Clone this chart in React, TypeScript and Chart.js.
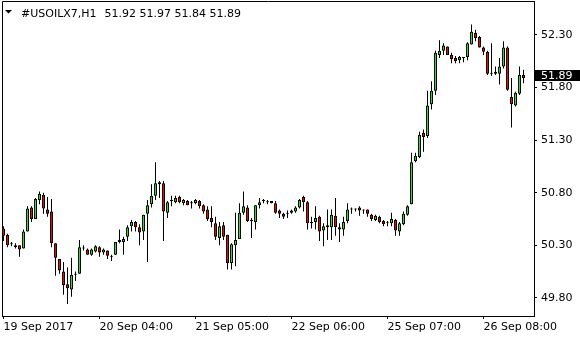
import React, { useEffect, useRef } from "react";
import { Chart, registerables } from "chart.js";

Chart.register(...registerables);

const symbol = "#USOILX7,H1";

const opens = [
  50.46, 50.40, 50.31, 50.30, 50.30, 50.27, 50.43, 50.66, 50.55, 50.73,
  50.78, 50.64, 50.62, 50.32, 50.17, 50.05, 49.93, 49.88, 50.02, 50.03,
  50.27, 50.26, 50.21, 50.24, 50.28, 50.23, 50.25, 50.19, 50.21, 50.35,
  50.33, 50.38, 50.48, 50.52, 50.47, 50.43, 50.60, 50.69, 50.77, 50.90,
  50.89, 50.61, 50.72, 50.71, 50.76, 50.70, 50.72, 50.70, 50.70, 50.72,
  50.68, 50.64, 50.56, 50.51, 50.37, 50.49, 50.40, 50.13, 50.30, 50.36,
  50.61, 50.66, 50.54, 50.52, 50.68, 50.72, 50.71, 50.72, 50.70, 50.63,
  50.60, 50.60, 50.63, 50.62, 50.66, 50.76, 50.71, 50.52, 50.52, 50.57,
  50.44, 50.47, 50.47, 50.58, 50.47, 50.45, 50.53, 50.64, 50.64, 50.66,
  50.63, 50.64, 50.59, 50.54, 50.57, 50.53, 50.51, 50.51, 50.54, 50.43,
  50.50, 50.59, 50.69, 51.10, 51.14, 51.37, 51.34, 51.64, 51.77, 52.11,
  52.15, 52.19, 52.11, 52.08, 52.06, 52.08, 52.09, 52.21, 52.32, 52.28,
  52.18, 52.14, 51.93, 51.93, 51.93, 52.00, 52.18, 51.71, 51.63, 51.74,
  51.92,
];

const highs = [
  50.48, 50.41, 50.33, 50.32, 50.30, 50.45, 50.67, 50.67, 50.75, 50.81,
  50.80, 50.76, 50.74, 50.32, 50.17, 50.14, 50.09, 50.18, 50.05, 50.35,
  50.30, 50.27, 50.27, 50.30, 50.29, 50.27, 50.25, 50.21, 50.33, 50.45,
  50.38, 50.49, 50.54, 50.53, 50.50, 50.59, 50.73, 50.88, 51.09, 50.91,
  50.91, 50.72, 50.77, 50.77, 50.77, 50.74, 50.73, 50.72, 50.74, 50.73,
  50.69, 50.67, 50.67, 50.57, 50.52, 50.52, 50.40, 50.32, 50.61, 50.70,
  50.81, 50.68, 50.56, 50.68, 50.75, 50.74, 50.73, 50.72, 50.72, 50.64,
  50.61, 50.63, 50.64, 50.67, 50.74, 50.77, 50.72, 50.57, 50.67, 50.58,
  50.51, 50.64, 50.64, 50.75, 50.51, 50.57, 50.70, 50.66, 50.65, 50.67,
  50.64, 50.64, 50.60, 50.59, 50.58, 50.54, 50.53, 50.61, 50.55, 50.52,
  50.62, 50.68, 51.18, 51.18, 51.38, 51.40, 51.77, 51.86, 52.15, 52.25,
  52.22, 52.19, 52.13, 52.10, 52.10, 52.09, 52.23, 52.40, 52.35, 52.29,
  52.19, 52.15, 52.22, 52.00, 52.08, 52.24, 52.19, 51.89, 51.76, 52.00,
  51.97,
];

const lows = [
  50.34, 50.28, 50.29, 50.27, 50.19, 50.27, 50.43, 50.52, 50.55, 50.69,
  50.60, 50.57, 50.28, 50.01, 50.03, 49.83, 49.74, 49.81, 49.96, 50.03,
  50.25, 50.21, 50.20, 50.23, 50.19, 50.21, 50.17, 50.15, 50.21, 50.32,
  50.21, 50.34, 50.43, 50.43, 50.30, 50.35, 50.14, 50.66, 50.73, 50.75,
  50.34, 50.56, 50.67, 50.70, 50.70, 50.68, 50.68, 50.65, 50.69, 50.65,
  50.60, 50.53, 50.47, 50.35, 50.30, 50.35, 50.07, 50.07, 50.10, 50.36,
  50.59, 50.52, 50.37, 50.45, 50.65, 50.70, 50.69, 50.70, 50.60, 50.56,
  50.55, 50.56, 50.60, 50.61, 50.65, 50.62, 50.45, 50.46, 50.45, 50.34,
  50.29, 50.35, 50.35, 50.39, 50.33, 50.39, 50.51, 50.60, 50.62, 50.58,
  50.60, 50.57, 50.53, 50.53, 50.51, 50.48, 50.48, 50.48, 50.39, 50.39,
  50.49, 50.58, 50.69, 51.09, 51.13, 51.19, 51.32, 51.59, 51.73, 52.08,
  52.11, 52.11, 52.03, 52.03, 52.03, 52.04, 52.06, 52.21, 52.24, 52.18,
  52.11, 51.92, 51.91, 51.92, 51.83, 51.98, 51.77, 51.42, 51.62, 51.73,
  51.84,
];

const closes = [
  50.39, 50.30, 50.31, 50.28, 50.26, 50.43, 50.65, 50.55, 50.74, 50.79,
  50.65, 50.60, 50.32, 50.18, 50.06, 49.92, 49.89, 50.02, 50.03, 50.28,
  50.27, 50.21, 50.26, 50.29, 50.23, 50.26, 50.20, 50.19, 50.33, 50.33,
  50.36, 50.47, 50.52, 50.47, 50.42, 50.59, 50.68, 50.77, 50.89, 50.88,
  50.62, 50.71, 50.72, 50.75, 50.71, 50.73, 50.68, 50.70, 50.73, 50.67,
  50.62, 50.55, 50.52, 50.38, 50.48, 50.38, 50.13, 50.31, 50.35, 50.61,
  50.67, 50.53, 50.53, 50.68, 50.71, 50.72, 50.71, 50.70, 50.61, 50.60,
  50.57, 50.60, 50.61, 50.66, 50.73, 50.71, 50.51, 50.51, 50.56, 50.43,
  50.48, 50.49, 50.59, 50.47, 50.45, 50.52, 50.64, 50.65, 50.64, 50.63,
  50.63, 50.60, 50.55, 50.58, 50.52, 50.50, 50.51, 50.55, 50.44, 50.51,
  50.60, 50.67, 51.09, 51.15, 51.35, 51.33, 51.63, 51.77, 52.13, 52.15,
  52.20, 52.11, 52.07, 52.05, 52.09, 52.08, 52.22, 52.33, 52.27, 52.18,
  52.14, 51.93, 51.93, 51.95, 52.00, 52.18, 51.78, 51.64, 51.75, 51.92,
  51.89,
];

const timeLabels = ["19 Sep 2017", "20 Sep 04:00", "21 Sep 05:00", "22 Sep 06:00", "25 Sep 07:00", "26 Sep 08:00"];
const labelBars = [0, 24, 48, 72, 96, 120];
const priceTicks = [49.8, 50.3, 50.8, 51.3, 51.8, 52.3];

const BULL = "#00ff00";
const BEAR = "#ff0000";
const FONT = "'DejaVu Sans', sans-serif";

export default function App() {
  const ref = useRef<HTMLCanvasElement>(null);

  useEffect(() => {
    const canvas = ref.current;
    if (!canvas) return;
    const n = closes.length;
    const idx = closes.map((_, i) => i);
    const wickData = idx.map((i) => ({ x: i, y: [lows[i], highs[i]] }));
    const bodyData = idx.map((i) => ({ x: i, y: [opens[i], closes[i]] }));
    const bodyColors = idx.map((i) =>
      closes[i] > opens[i] ? BULL : closes[i] < opens[i] ? BEAR : "#000000"
    );

    const overlay = {
      id: "mt4overlay",
      afterDraw(chart: any) {
        const { ctx, chartArea: a, scales } = chart;
        ctx.save();
        ctx.strokeStyle = "#000";
        ctx.lineWidth = 1;
        ctx.beginPath();
        ctx.moveTo(a.left + 0.5, a.bottom);
        ctx.lineTo(a.left + 0.5, a.top + 0.5);
        ctx.lineTo(a.right, a.top + 0.5);
        ctx.stroke();

        ctx.fillStyle = "#000";
        ctx.beginPath();
        ctx.moveTo(5, 10);
        ctx.lineTo(12, 10);
        ctx.lineTo(8.5, 13.5);
        ctx.closePath();
        ctx.fill();

        ctx.font = `11px ${FONT}`;
        ctx.textAlign = "left";
        ctx.textBaseline = "alphabetic";
        ctx.fillText(symbol, 21, 17);
        const w = ctx.measureText(symbol).width;
        const last = n - 1;
        const ohlc = [opens[last], highs[last], lows[last], closes[last]]
          .map((v) => v.toFixed(2))
          .join(" ");
        ctx.fillText(ohlc, 21 + w + 8, 17);

        const py = scales.y.getPixelForValue(closes[last]);
        const top = Math.round(py) - 8;
        ctx.fillRect(a.right + 1, top, chart.width - a.right - 1, 11);
        ctx.fillStyle = "#fff";
        ctx.textBaseline = "middle";
        ctx.fillText(closes[last].toFixed(2), a.right + 7, top + 6);
        ctx.restore();
      },
    };

    const chart = new Chart(canvas, {
      type: "bar",
      data: {
        datasets: [
          {
            label: "wick",
            data: wickData as any,
            backgroundColor: "#000000",
            borderWidth: 0,
            barThickness: 1,
            maxBarThickness: 1,
            grouped: false,
            order: 2,
            inflateAmount: 0,
          } as any,
          {
            label: "body",
            data: bodyData as any,
            backgroundColor: bodyColors,
            borderColor: "#000000",
            borderWidth: 1,
            borderSkipped: false,
            barThickness: 3,
            maxBarThickness: 3,
            grouped: false,
            order: 1,
            minBarLength: 1,
            inflateAmount: 0,
          } as any,
        ],
      },
      options: {
        responsive: false,
        animation: false,
        events: [],
        layout: { padding: { left: 2, top: 1, right: 0, bottom: 0 } },
        plugins: {
          legend: { display: false },
          tooltip: { enabled: false },
          title: { display: false },
        },
        scales: {
          x: {
            type: "linear",
            min: -0.375,
            max: 132.625,
            offset: false,
            bounds: "data",
            grid: { drawOnChartArea: false, drawTicks: true, tickLength: 3, color: "#000", offset: false },
            border: { display: true, color: "#000" },
            ticks: {
              autoSkip: false,
              maxRotation: 0,
              minRotation: 0,
              align: "start",
              padding: 2,
              color: "#000",
              font: { family: FONT, size: 11 },
              callback: (_v: any, i: number) => timeLabels[i],
            },
            afterBuildTicks: (s: any) => {
              s.ticks = labelBars.map((v) => ({ value: v }));
            },
            afterFit: (s: any) => {
              s.height = 24;
              s.paddingLeft = 0;
              s.paddingRight = 0;
            },
          } as any,
          y: {
            type: "linear",
            position: "right",
            min: 49.627,
            max: 52.623,
            beginAtZero: false,
            bounds: "data",
            grid: { drawOnChartArea: false, drawTicks: true, tickLength: 3, color: "#000" },
            border: { display: true, color: "#000" },
            ticks: {
              autoSkip: false,
              padding: 4,
              color: "#000",
              font: { family: FONT, size: 11 },
              callback: (v: any) => Number(v).toFixed(2),
            },
            afterBuildTicks: (s: any) => {
              s.ticks = priceTicks.map((v) => ({ value: v }));
            },
            afterFit: (s: any) => {
              s.width = 46;
              s.paddingTop = 0;
              s.paddingBottom = 0;
            },
          } as any,
        },
      } as any,
      plugins: [overlay],
    });

    return () => chart.destroy();
  }, []);

  return (
    <div style={{ position: "fixed", left: 0, top: 0, width: 580, height: 340, background: "#fff" }}>
      <canvas ref={ref} width={580} height={340} style={{ display: "block" }} />
    </div>
  );
}
